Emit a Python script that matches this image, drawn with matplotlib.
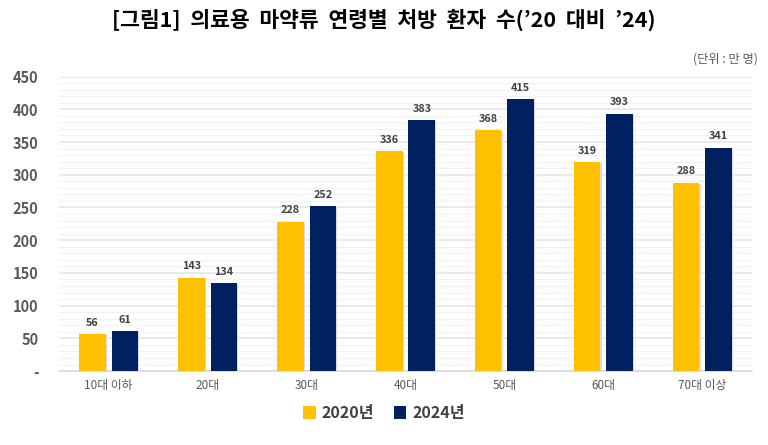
import matplotlib
matplotlib.use("Agg")
import matplotlib.pyplot as plt
import numpy as np
from matplotlib.ticker import MultipleLocator, FuncFormatter

plt.rcParams['font.family'] = ['Noto Sans CJK KR', 'DejaVu Sans']

categories = ['10대 이하', '20대', '30대', '40대', '50대', '60대', '70대 이상']
y2020 = [56, 143, 228, 336, 368, 319, 288]
y2024 = [61, 134, 252, 383, 415, 393, 341]
series_names = ['2020년', '2024년']
colors = ['#FFC000', '#002060']

fig = plt.figure(figsize=(7.68, 4.45), dpi=100)
ax = fig.add_axes([0.077, 0.166, 0.902, 0.662])

x = np.arange(len(categories))
w = 0.27
off = 0.165
for vals, dx, c, name in [(y2020, -off, colors[0], series_names[0]),
                          (y2024, off, colors[1], series_names[1])]:
    # light shadow
    ax.bar(x + dx + 0.012, vals, w, color='#d9d9d9', zorder=2, bottom=-1.5)
    bars = ax.bar(x + dx, vals, w, color=c, label=name, zorder=3)
    for xi, v in zip(x + dx, vals):
        ax.text(xi, v + 10, str(v), ha='center', va='bottom', fontsize=7.8,
                fontweight='bold', color='#404040')

ax.set_xlim(-0.5, len(categories) - 0.5)
ax.set_ylim(0, 450)
ax.yaxis.set_major_locator(MultipleLocator(50))
ax.yaxis.set_minor_locator(MultipleLocator(10))
ax.yaxis.set_major_formatter(FuncFormatter(lambda v, p: '-' if v == 0 else f'{int(v)}'))
ax.grid(axis='y', which='major', color='#e6e6e6', linewidth=1.2, zorder=0)
ax.grid(axis='y', which='minor', color='#f2f2f2', linewidth=0.9, zorder=0)
ax.set_axisbelow(True)

ax.set_xticks(x)
ax.set_xticklabels(categories, fontsize=8.5, color='#595959')
for lab in ax.get_yticklabels():
    lab.set_fontweight('bold')
ax.tick_params(axis='y', labelsize=10.5, labelcolor='#595959', length=0, which='both', pad=15)
ax.tick_params(axis='x', length=0, pad=6)
for s in ['top', 'right', 'left']:
    ax.spines[s].set_visible(False)
ax.spines['bottom'].set_color('#d9d9d9')
ax.spines['bottom'].set_linewidth(1.2)

fig.text(0.5, 0.955, "[그림1]  의료용  마약류  연령별  처방  환자  수(’20  대비  ’24)",
         ha='center', va='center', fontsize=15.5, fontweight='bold', color='black')
fig.text(0.987, 0.868, '(단위 : 만 명)', ha='right', va='center', fontsize=8.8, color='#595959')

handles, labels = ax.get_legend_handles_labels()
fig.legend(handles, labels, loc='center', bbox_to_anchor=(0.5, 0.072), ncol=2,
           frameon=False, prop={'size': 11.5, 'weight': 'bold'},
           handlelength=0.8, handleheight=0.8, handletextpad=0.4, columnspacing=1.2,
           labelcolor='#404040')

fig.savefig('out.png', dpi=100, facecolor='white')
